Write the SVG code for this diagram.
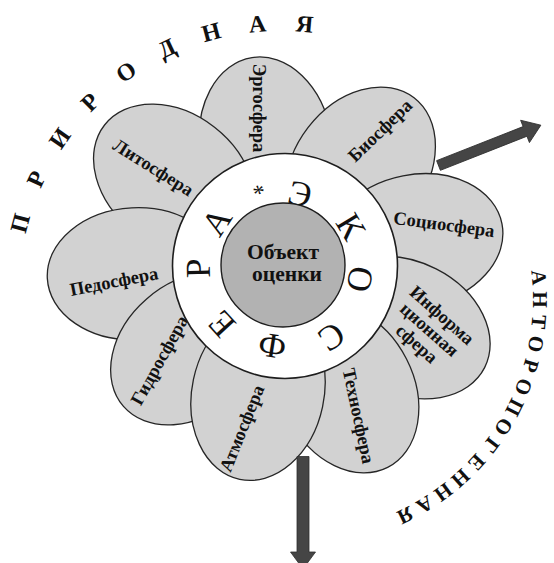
<svg xmlns="http://www.w3.org/2000/svg" width="554" height="563" viewBox="0 0 554 563">
  <style>
    .petal { fill: #d2d2d2; stroke: #262626; stroke-width: 1.3; }
    .lbl { font-family: "Liberation Serif", "DejaVu Serif", serif; font-weight: bold; font-size: 18.5px; fill: #111; text-anchor: middle; }
    .ring { fill: #ffffff; stroke: #1e1e1e; stroke-width: 1.6; }
    .core { fill: #b2b2b2; stroke: #1e1e1e; stroke-width: 1.4; }
    .ringch { font-family: "Liberation Serif", "DejaVu Serif", serif; font-size: 35px; fill: #111; text-anchor: middle; }
    .core-t { font-family: "Liberation Serif", "DejaVu Serif", serif; font-weight: bold; font-size: 21.5px; fill: #111; text-anchor: middle; }
    .arc1 { font-family: "Liberation Serif", "DejaVu Serif", serif; font-weight: bold; font-size: 24px; fill: #111; text-anchor: middle; }
    .arc2 { font-family: "Liberation Serif", "DejaVu Serif", serif; font-weight: bold; font-size: 21px; fill: #111; text-anchor: middle; }
    .arrow { fill: #454545; stroke: #2e2e2e; stroke-width: 0.8; }
  </style>
  <rect width="554" height="563" fill="#ffffff"/>

  <!-- petals, drawn bottom to top -->
  <g id="petal-ergo"><ellipse class="petal" cx="0" cy="0" rx="88" ry="66" transform="translate(265.8,144.5) rotate(-99)"/></g>
  <g id="petal-bio"><ellipse class="petal" cx="0" cy="0" rx="88" ry="66" transform="translate(360.5,167.6) rotate(-52.5)"/></g>
  <g id="petal-lito"><ellipse class="petal" cx="0" cy="0" rx="88" ry="66" transform="translate(173.9,179.2) rotate(-142)"/></g>
  <g id="petal-socio"><ellipse class="petal" cx="0" cy="0" rx="88" ry="66" transform="translate(415.6,240.6) rotate(-11)"/></g>
  <g id="petal-pedo"><ellipse class="petal" cx="0" cy="0" rx="88" ry="66" transform="translate(135.2,273.8) rotate(177)"/></g>
  <g id="petal-inform"><ellipse class="petal" cx="0" cy="0" rx="88" ry="66" transform="translate(406.2,327.7) rotate(27)"/></g>
  <g id="petal-gidro"><ellipse class="petal" cx="0" cy="0" rx="88" ry="66" transform="translate(189.9,348.7) rotate(139)"/></g>
  <g id="petal-techno"><ellipse class="petal" cx="0" cy="0" rx="88" ry="66" transform="translate(347.7,389) rotate(63)"/></g>
  <g id="petal-atmo"><ellipse class="petal" cx="0" cy="0" rx="88" ry="66" transform="translate(258,393.2) rotate(102)"/></g>

  <!-- petal labels -->
  <g id="labels">
    <text class="lbl" transform="translate(258.5,108) rotate(90)" y="5.5">Эргосфера</text>
    <text class="lbl" transform="translate(380.5,131) rotate(-44)" y="5.5">Биосфера</text>
    <text class="lbl" transform="translate(153,168) rotate(32)" y="5.5">Литосфера</text>
    <text class="lbl" transform="translate(444,225) rotate(7.5)" y="5.5">Социосфера</text>
    <text class="lbl" transform="translate(114,282) rotate(-11)" y="5.5">Педосфера</text>
    <g transform="translate(429,330) rotate(41.5)">
      <text class="lbl" y="-13.5">Информа</text>
      <text class="lbl" y="5.5">ционная</text>
      <text class="lbl" y="24.5">сфера</text>
    </g>
    <text class="lbl" transform="translate(160,360.5) rotate(-61)" y="5.5">Гидросфера</text>
    <text class="lbl" transform="translate(358,416) rotate(78)" y="5.5">Техносфера</text>
    <text class="lbl" transform="translate(242.5,428.5) rotate(-68)" y="5.5">Атмосфера</text>
  </g>

  <!-- ring with the word around it -->
  <g id="ring">
    <circle class="ring" cx="285" cy="266" r="112.5"/>
    <text class="ringch" transform="translate(300,194) rotate(12)" y="11.5">Э</text>
    <text class="ringch" transform="translate(350.7,226.7) rotate(59)" y="11.5">К</text>
    <text class="ringch" transform="translate(360,279.3) rotate(100)" y="11.5">О</text>
    <text class="ringch" transform="translate(331.7,336.7) rotate(146.5)" y="11.5">С</text>
    <text class="ringch" transform="translate(272.3,345.7) rotate(189)" y="11.5">Ф</text>
    <text class="ringch" transform="translate(221.7,324) rotate(227.5)" y="11.5">Е</text>
    <text class="ringch" transform="translate(198.3,268.3) rotate(268.5)" y="11.5">Р</text>
    <text class="ringch" transform="translate(216.7,221.7) rotate(-57)" y="11.5">А</text>
    <text class="ringch" style="font-size:24px" transform="translate(258.3,189.3) rotate(-19)" y="12">*</text>
  </g>

  <!-- core -->
  <g id="core">
    <circle class="core" cx="283" cy="265" r="62"/>
    <text class="core-t" x="283" y="259">Объект</text>
    <text class="core-t" x="287" y="281">оценки</text>
  </g>

  <!-- outer arc captions -->
  <g id="arc-natural">
    <text class="arc1" x="281" y="31" transform="rotate(-75 281 293)">П</text>
    <text class="arc1" x="281" y="31" transform="rotate(-65 281 293)">Р</text>
    <text class="arc1" x="281" y="31" transform="rotate(-55 281 293)">И</text>
    <text class="arc1" x="281" y="31" transform="rotate(-45 281 293)">Р</text>
    <text class="arc1" x="281" y="31" transform="rotate(-35 281 293)">О</text>
    <text class="arc1" x="281" y="31" transform="rotate(-25 281 293)">Д</text>
    <text class="arc1" x="281" y="31" transform="rotate(-15 281 293)">Н</text>
    <text class="arc1" x="281" y="31" transform="rotate(-5 281 293)">А</text>
    <text class="arc1" x="281" y="31" transform="rotate(5 281 293)">Я</text>
  </g>
  <g id="arc-anthropogenic">
    <text class="arc2" x="300" y="67.1" transform="rotate(84.6 300 300)">А</text>
    <text class="arc2" x="300" y="67.1" transform="rotate(89.93 300 300)">Н</text>
    <text class="arc2" x="300" y="67.1" transform="rotate(95.26 300 300)">Т</text>
    <text class="arc2" x="300" y="67.1" transform="rotate(100.6 300 300)">О</text>
    <text class="arc2" x="300" y="67.1" transform="rotate(105.93 300 300)">Р</text>
    <text class="arc2" x="300" y="67.1" transform="rotate(111.26 300 300)">О</text>
    <text class="arc2" x="300" y="67.1" transform="rotate(116.6 300 300)">П</text>
    <text class="arc2" x="300" y="67.1" transform="rotate(121.93 300 300)">О</text>
    <text class="arc2" x="300" y="67.1" transform="rotate(127.26 300 300)">Г</text>
    <text class="arc2" x="300" y="67.1" transform="rotate(132.6 300 300)">Е</text>
    <text class="arc2" x="300" y="67.1" transform="rotate(137.93 300 300)">Н</text>
    <text class="arc2" x="300" y="67.1" transform="rotate(143.26 300 300)">Н</text>
    <text class="arc2" x="300" y="67.1" transform="rotate(148.6 300 300)">А</text>
    <text class="arc2" x="300" y="67.1" transform="rotate(153.93 300 300)">Я</text>
  </g>

  <!-- block arrows -->
  <g id="connectors">
    <polygon class="arrow" transform="translate(438.5,165.5) rotate(-21.5)" points="0,-5.2 93,-5.2 93,-12 110,0 93,12 93,5.2 0,5.2"/>
    <polygon class="arrow" points="297,456.5 309,456.5 309,552 315.5,552 303,569 290.5,552 297,552"/>
  </g>
</svg>
